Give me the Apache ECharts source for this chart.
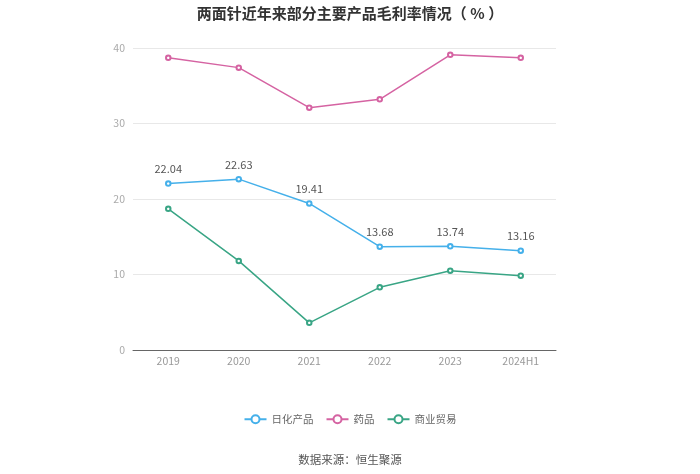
<!DOCTYPE html>
<html><head><meta charset="utf-8">
<script src="https://cdn.jsdelivr.net/npm/echarts@6/dist/echarts.min.js"></script>
<style>html,body{margin:0;padding:0;background:#fff}#c{width:700px;height:474px}</style>
</head><body><div id="c"></div>
<script>
var categories = ['2019', '2020', '2021', '2022', '2023', '2024H1'];
var dailyProducts = [22.04, 22.63, 19.41, 13.68, 13.74, 13.16];
var medicine = [38.7, 37.4, 32.1, 33.2, 39.1, 38.7];
var trade = [18.7, 11.8, 3.6, 8.3, 10.5, 9.85];
var seriesNames = ['日化产品', '药品', '商业贸易'];
var yTicks = [0, 10, 20, 30, 40];

var chart = echarts.init(document.getElementById('c'), null, {renderer: 'canvas'});
var font = "'Noto Sans CJK SC', sans-serif";
function mk(name, data, color, label) {
  return {
    name: name, type: 'line', data: data,
    symbol: 'emptyCircle', symbolSize: 4.5,
    lineStyle: {color: color, width: 1.5},
    itemStyle: {color: color, borderWidth: 1.5},
    label: {show: label, position: 'top', color: '#555', fontSize: 11, fontFamily: font, distance: 6},
    emphasis: {disabled: true}
  };
}
chart.setOption({
  animation: false,
  backgroundColor: '#fff',
  title: [{
    text: '两面针近年来部分主要产品毛利率情况（ % ）', left: 'center', top: 1,
    textStyle: {fontSize: 15, fontWeight: 'bold', color: '#333', fontFamily: font}
  }, {
    text: '数据来源：恒生聚源', left: 'center', top: 449,
    textStyle: {fontSize: 11.5, fontWeight: 'normal', color: '#555', fontFamily: font}
  }],
  legend: {
    data: seriesNames, top: 409, left: 'center', itemWidth: 22, itemHeight: 10, itemGap: 12,
    textStyle: {fontSize: 10.5, color: '#666', fontFamily: font}
  },
  grid: {left: 133, right: 144, top: 48, bottom: 124, containLabel: false},
  xAxis: {
    type: 'category', data: categories, boundaryGap: true,
    axisLine: {lineStyle: {color: '#666'}},
    axisTick: {alignWithLabel: true, length: 4, lineStyle: {color: '#666'}},
    axisLabel: {color: '#999', fontSize: 10.5, fontFamily: font, margin: 6}
  },
  yAxis: {
    type: 'value', min: yTicks[0], max: yTicks[yTicks.length - 1], interval: 10,
    axisLine: {show: false}, axisTick: {show: false},
    axisLabel: {color: '#aaa', fontSize: 10.5, fontFamily: font, margin: 8},
    splitLine: {lineStyle: {color: '#e8e8e8'}}
  },
  series: [
    mk(seriesNames[0], dailyProducts, '#45b0ea', true),
    mk(seriesNames[1], medicine, '#d563a2', false),
    mk(seriesNames[2], trade, '#39a585', false)
  ]
});
</script></body></html>
